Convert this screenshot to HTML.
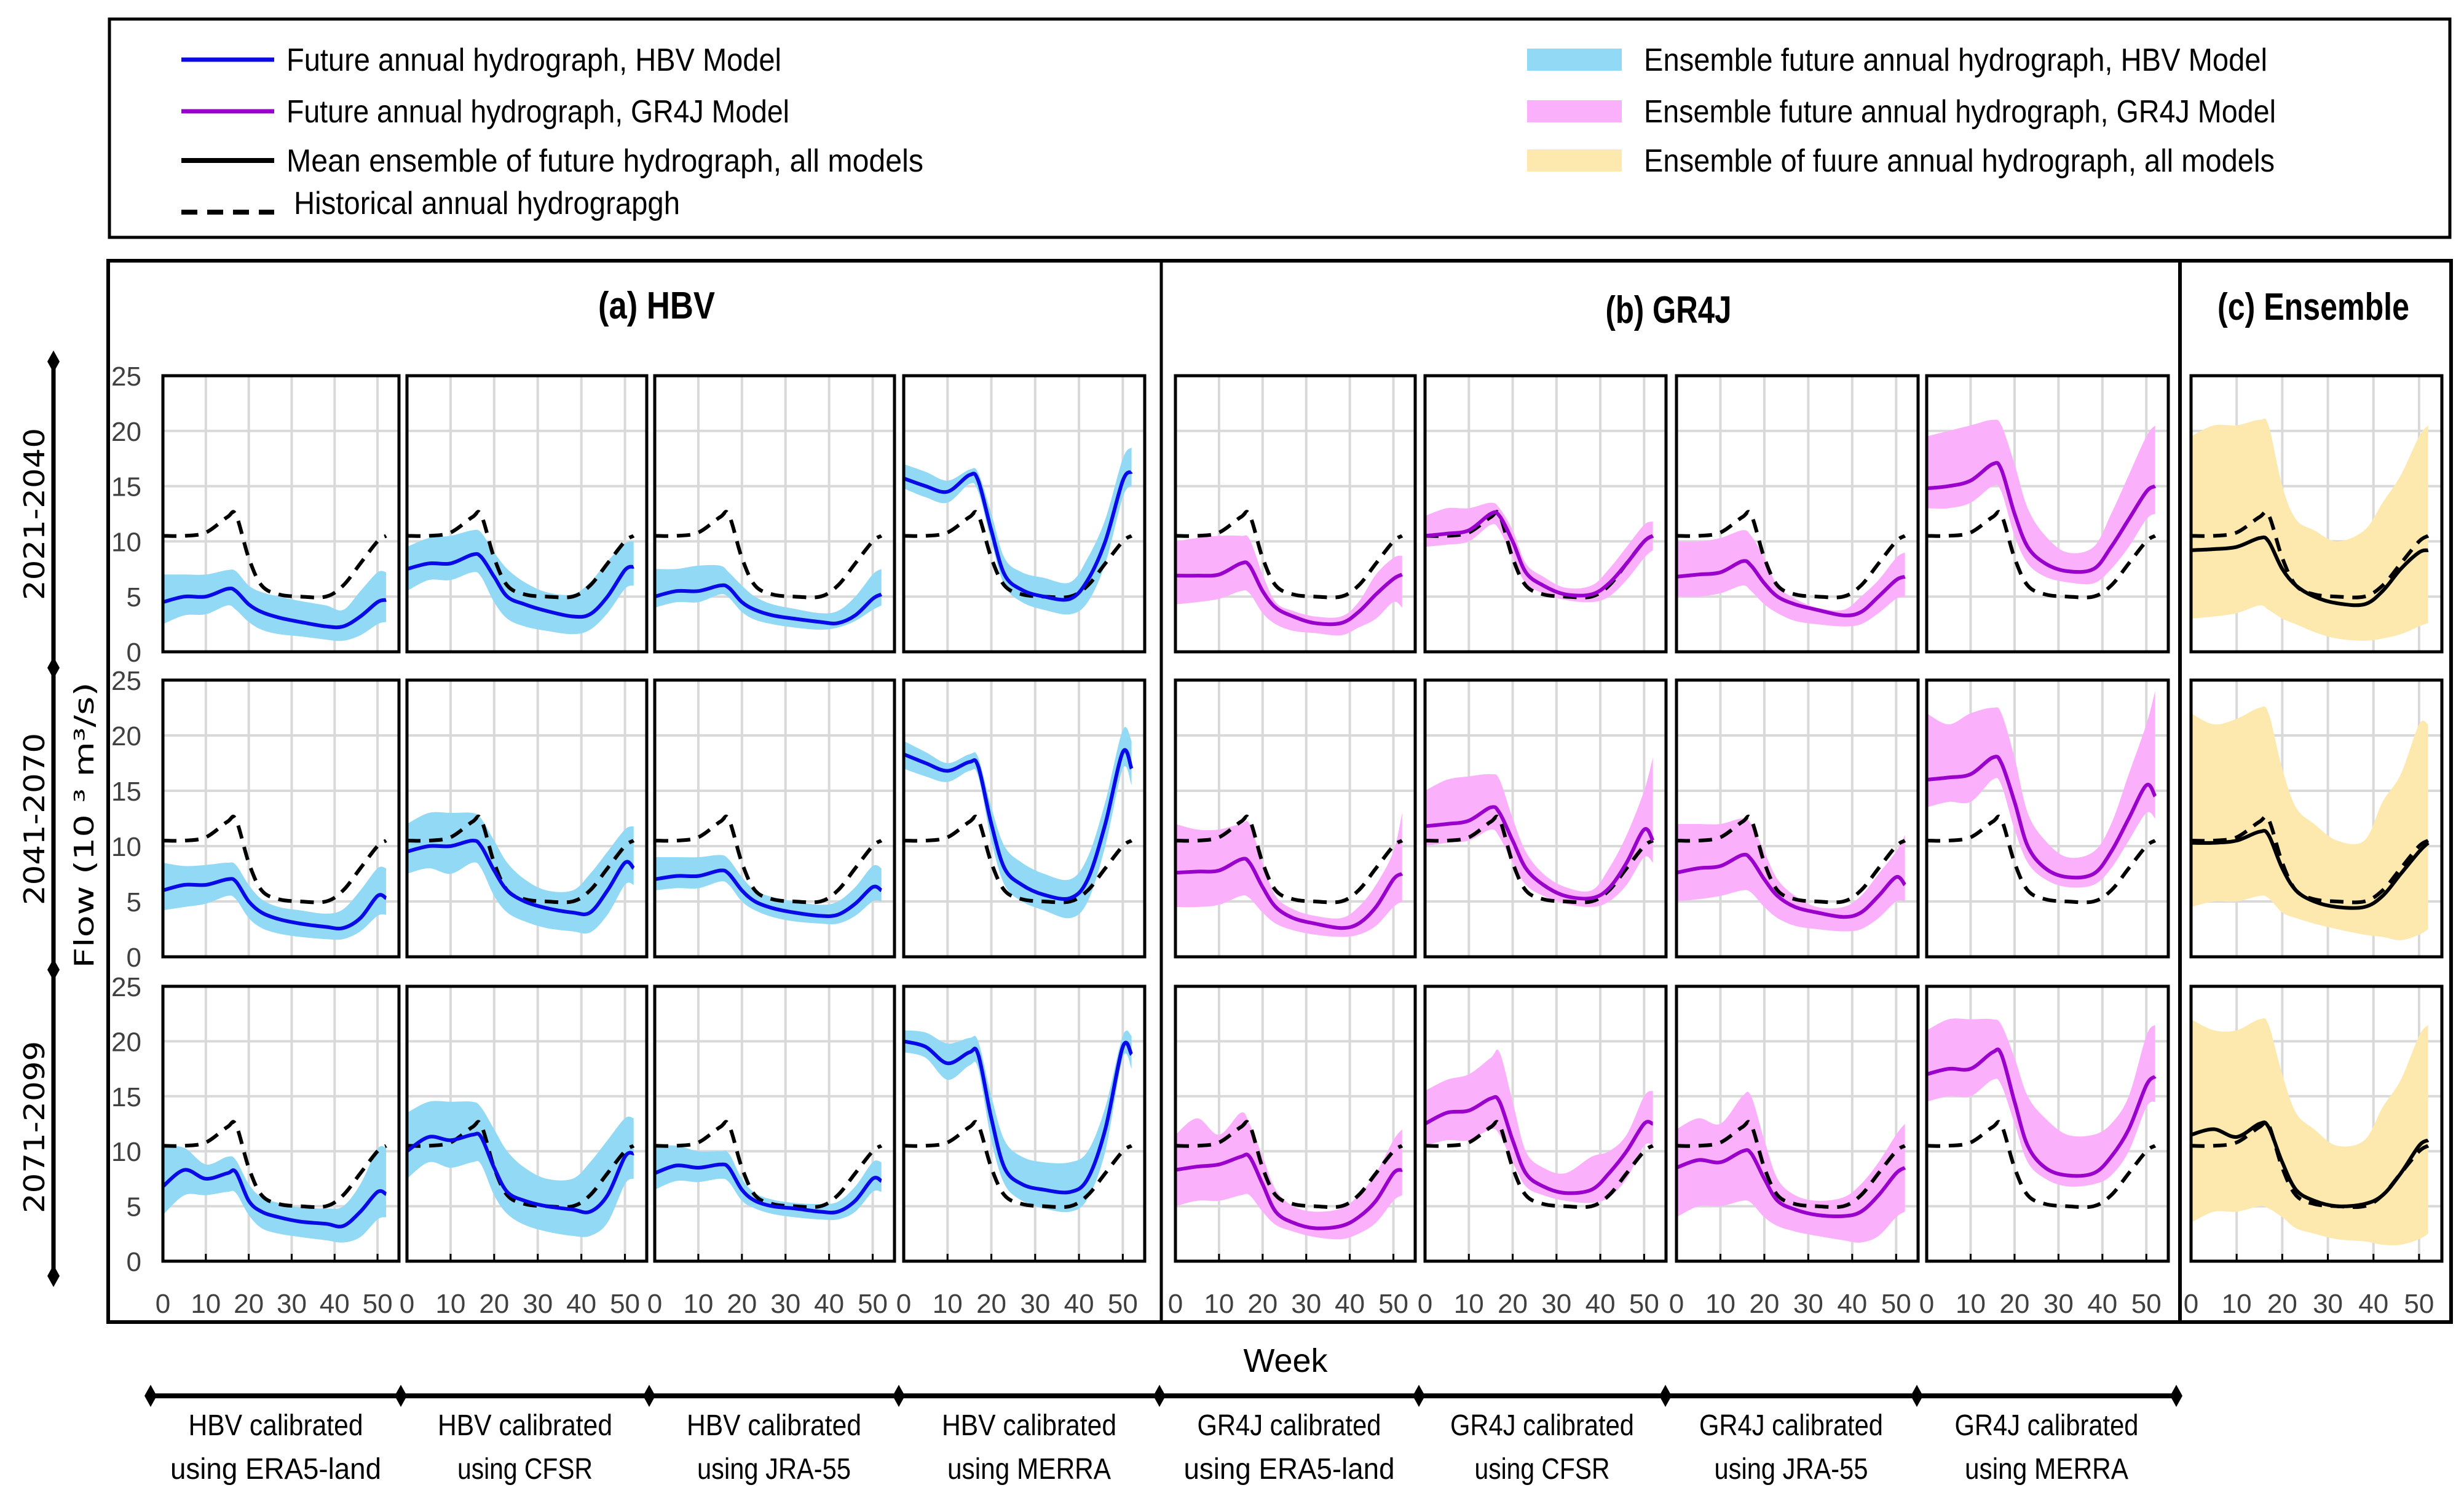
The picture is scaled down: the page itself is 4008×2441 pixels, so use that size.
<!DOCTYPE html>
<html><head><meta charset="utf-8">
<style>
html,body{margin:0;padding:0;background:#fff;}
svg{display:block;}
text{font-family:"Liberation Sans Narrow","Liberation Sans",sans-serif;}
</style></head>
<body>
<svg id="fig" xmlns="http://www.w3.org/2000/svg" width="4008" height="2441" viewBox="0 0 4008 2441">
<rect x="0" y="0" width="4008" height="2441" fill="#fff"/>
<g>
<rect x="178" y="31" width="3807" height="355" fill="none" stroke="#000" stroke-width="5"/>
<g><line x1="295" y1="97" x2="446" y2="97" stroke="#0a0ae6" stroke-width="7"/><text x="466" y="115" font-size="52" textLength="805" lengthAdjust="spacingAndGlyphs">Future annual hydrograph, HBV Model</text></g>
<g><line x1="295" y1="181" x2="446" y2="181" stroke="#9a00cc" stroke-width="7"/><text x="466" y="199" font-size="52" textLength="818" lengthAdjust="spacingAndGlyphs">Future annual hydrograph, GR4J Model</text></g>
<g><line x1="295" y1="261" x2="446" y2="261" stroke="#000" stroke-width="8"/><text x="466" y="279" font-size="52" textLength="1036" lengthAdjust="spacingAndGlyphs">Mean ensemble of  future hydrograph, all models</text></g>
<g><line x1="295" y1="345" x2="446" y2="345" stroke="#000" stroke-width="8" stroke-dasharray="26,16"/><text x="478" y="348" font-size="52" textLength="628" lengthAdjust="spacingAndGlyphs">Historical annual hydrograpgh</text></g>
<g><rect x="2484" y="79" width="154" height="36" fill="#92d9f5"/><text x="2674" y="115" font-size="52" textLength="1014" lengthAdjust="spacingAndGlyphs">Ensemble future annual hydrograph, HBV Model</text></g>
<g><rect x="2484" y="163" width="154" height="36" fill="#fbb0fb"/><text x="2674" y="199" font-size="52" textLength="1028" lengthAdjust="spacingAndGlyphs">Ensemble future annual hydrograph, GR4J Model</text></g>
<g><rect x="2484" y="243" width="154" height="36" fill="#fde8ae"/><text x="2674" y="279" font-size="52" textLength="1026" lengthAdjust="spacingAndGlyphs">Ensemble of fuure annual hydrograph, all models</text></g>
</g>
<rect x="176" y="424" width="3811" height="1726" fill="none" stroke="#000" stroke-width="6"/>
<line x1="1889" y1="424" x2="1889" y2="2150" stroke="#000" stroke-width="5"/>
<line x1="3546" y1="424" x2="3546" y2="2150" stroke="#000" stroke-width="6"/>
<text x="1068" y="518" font-size="62" font-weight="bold" text-anchor="middle" textLength="190" lengthAdjust="spacingAndGlyphs">(a) HBV</text>
<text x="2714" y="525" font-size="62" font-weight="bold" text-anchor="middle" textLength="205" lengthAdjust="spacingAndGlyphs">(b) GR4J</text>
<text x="3763" y="520" font-size="62" font-weight="bold" text-anchor="middle" textLength="312" lengthAdjust="spacingAndGlyphs">(c) Ensemble</text>
<g>
<line x1="87" y1="588" x2="87" y2="2075" stroke="#000" stroke-width="7"/>
<path d="M87 570 L97 588 L87 606 L77 588Z M87 1068 L97 1086 L87 1104 L77 1086Z M87 1559 L97 1577 L87 1595 L77 1577Z M87 2057 L97 2075 L87 2093 L77 2075Z" fill="#000"/>
<text transform="translate(72,836) rotate(-90)" font-size="46" text-anchor="middle" style="font-family:'DejaVu Sans',sans-serif" textLength="280" lengthAdjust="spacingAndGlyphs">2021-2040</text>
<text transform="translate(72,1332) rotate(-90)" font-size="46" text-anchor="middle" style="font-family:'DejaVu Sans',sans-serif" textLength="280" lengthAdjust="spacingAndGlyphs">2041-2070</text>
<text transform="translate(72,1833) rotate(-90)" font-size="46" text-anchor="middle" style="font-family:'DejaVu Sans',sans-serif" textLength="280" lengthAdjust="spacingAndGlyphs">2071-2099</text>
</g>
<text transform="translate(152,1342) rotate(-90)" font-size="44" text-anchor="middle" style="font-family:'DejaVu Sans',sans-serif" textLength="465" lengthAdjust="spacingAndGlyphs">Flow (10 ³ m³/s)</text>
<text x="2091" y="2231" font-size="54" text-anchor="middle">Week</text>
<g>
<line x1="245" y1="2270" x2="3540" y2="2270" stroke="#000" stroke-width="8"/>
<g id="bottomDiamonds"></g>
</g>
<g id="panels"></g>
</svg>
<script>
// ---- data ----
const weeks = [0,5,10,15,17,20,23,27,32,38,42,46,50,52];
const histFlow = [10.5,10.5,10.8,12.2,12.4,8.5,6,5.2,5,5,6,8,10,10.5];
const periods = ["2021-2040","2041-2070","2071-2099"];
const models = ["HBV ERA5-land","HBV CFSR","HBV JRA-55","HBV MERRA","GR4J ERA5-land","GR4J CFSR","GR4J JRA-55","GR4J MERRA","Ensemble"];
const yTicks = [0,5,10,15,20,25];
const xTicks = [0,10,20,30,40,50];
const calibLine1 = ["HBV calibrated","HBV calibrated","HBV calibrated","HBV calibrated","GR4J calibrated","GR4J calibrated","GR4J calibrated","GR4J calibrated"];
const calibLine2 = ["using  ERA5-land","using  CFSR","using  JRA-55","using  MERRA","using  ERA5-land","using  CFSR","using  JRA-55","using  MERRA"];

const mean2021 = [
[4.5,5,5,5.7,5.5,4.3,3.6,3.1,2.7,2.3,2.3,3.2,4.5,4.7],
[7.5,8,8,8.8,8.6,6.8,5,4.3,3.7,3.2,3.4,5,7.4,7.7],
[5,5.5,5.5,6,5.8,4.5,3.8,3.3,3,2.7,2.6,3.3,4.8,5.2],
[15.7,15,14.5,16,15.5,11,7,5.6,5,4.8,6.5,10,15.5,16.3],
[6.9,6.9,7,8,7.8,5.5,4,3.2,2.6,2.6,3.6,5.2,6.6,7],
[10.5,10.7,11,12.5,12.3,10,7.2,6,5.2,5.2,6.2,8,10,10.5],
[6.8,7,7.2,8.2,7.8,6.2,5,4.3,3.8,3.3,3.6,5,6.5,6.8],
[14.8,15,15.5,17,16.5,12.5,9.5,8,7.3,7.5,9.5,12,14.5,15],
[9.2,9.3,9.5,10.3,10,7.5,6,5,4.4,4.3,5.5,7.5,9,9.2]];
const lo2021 = [
[2.5,3.3,3.4,4.2,3.8,2.7,2,1.6,1.4,1.1,1,1.5,2.5,2.7],
[5.5,6.5,6.5,7.2,6.8,4.5,3,2.3,1.9,1.6,2,3.5,5.7,6],
[4,4.5,4.5,5.2,4.9,3.6,2.9,2.5,2.2,2,2.2,2.8,3.8,4.2],
[14.8,14,13.5,15.2,14.5,10,6,4.5,3.8,3.4,4.5,8,14,15],
[4.3,4.5,4.8,5.5,5.3,3.5,2.5,1.9,1.7,1.5,2.2,3,4.5,4],
[9.5,9.7,10,11.5,11,8.5,6.2,5.3,4.7,4.5,5,6.5,8.5,9.2],
[5,5,5.3,6,5.5,4.3,3.5,2.8,2.5,2.3,2.5,3.5,4.8,5],
[13,13,13.5,15,14.5,10.5,8,6.8,6.3,6.2,7.5,9.5,12,12.5],
[3,3.2,3.5,4.2,3.8,3,2.5,1.8,1.2,1,1.2,1.6,2.3,2.6]];
const hi2021 = [
[7,7,7,7.4,7.3,6,5.4,5,4.6,4.2,3.8,5.5,7.2,7.2],
[9.5,10.3,10.5,11,10.8,9,7.5,6.3,5.4,5.2,6.3,8.2,9.8,10],
[7.5,7.5,7.8,7.8,7.2,6,5,4.3,3.9,3.5,3.7,5,7,7.5],
[17,16.3,15.5,16.5,16.2,12.5,8.5,7.2,6.7,6.3,8.5,12,17.5,18.5],
[10,10.3,10.5,10.5,10.2,7,4.5,3.7,3.2,3.2,4.5,7,8.5,8.7],
[12.3,13,13,13.5,13,11,8,6.8,5.8,6,7.5,9.5,11.5,11.8],
[10,10,10.3,11,10.5,8.5,6,4.8,4,3.8,5,6.5,8.5,9],
[19.5,20,20.5,21,20.5,17,13,10.5,9,9.5,12.5,16,19.5,20.5],
[19.5,20.5,20.5,21,20.5,15,12,11,10,11,13.5,16,19.5,20.5]];
const mean2041 = [
[6,6.5,6.5,7,6.8,5,4,3.4,3,2.7,2.6,3.5,5.5,5.3],
[9.5,10,10,10.5,10,7.8,6,5,4.4,4,4,6,8.5,8],
[7,7.3,7.3,7.8,7.5,6,5,4.4,4,3.7,3.8,4.8,6.3,6],
[18.3,17.5,16.8,17.6,17.2,12,8,6.5,5.6,5.3,7,12,18.5,17],
[7.6,7.7,7.8,8.8,8.5,6.3,4.5,3.5,3,2.6,3,4.5,7,7.5],
[11.8,12,12.3,13.5,13,10.5,8,6.5,5.5,5.3,6.2,8.5,11.5,10.5],
[7.6,8,8.2,9.2,8.8,7,5.5,4.5,4,3.6,4,5.5,7.2,6.5],
[16,16.2,16.5,18,17.5,14,10,8,7.2,7.5,9.5,12.5,15.5,14.5],
[10.3,10.3,10.5,11.3,11,8,6,5,4.5,4.5,5.5,7.5,9.5,10.3]];
const lo2041 = [
[4.2,4.5,4.8,5.5,5.2,3.5,2.6,2.1,1.8,1.6,1.6,2.3,3.7,3.8],
[7.5,8,7.5,8.5,8,5.5,4,3.2,2.6,2.3,2.2,3.8,6.5,6.5],
[6,6.2,6.2,6.8,6.5,5,4.2,3.6,3.2,3,3,3.7,5,5],
[17,16.3,15.8,16.8,16.3,10.5,6.5,5,4.2,3.5,5,10,17,15.5],
[4.5,4.5,4.7,5.5,5.3,4,3,2.4,2,1.8,2,2.8,4.5,5],
[10,10.3,10.5,11.5,10.8,8.5,6.5,5.5,4.8,4.5,5,6.5,9,8.5],
[5,5.2,5.5,6,5.8,4.5,3.5,2.8,2.5,2.3,2.5,3.5,5,5],
[13.5,14,14,16,15.5,11.5,8.5,7,6.3,6.5,8,10.5,13,12.5],
[4.5,5,5,5.5,5.3,4,3.5,3,2.5,2,1.8,1.5,2,2.5]];
const hi2041 = [
[8.5,8.2,8.3,8.5,8.3,6.5,5.2,4.5,4.2,3.9,4.3,6,8,8],
[12,13,13,13,12.5,10.5,8.5,7,6,6,7.5,9.5,11.5,11.8],
[9,9,9,9.2,8.8,7.2,6,5.4,5,4.7,5,6.3,8.2,8],
[19.5,18.5,17.5,18.3,18,13.5,10,8.5,7.5,7,9,14,20.5,19.5],
[12,11.5,11.5,12,12,8.5,5.5,4.3,3.7,3.5,4.5,6.5,9.5,13],
[15,16,16.3,16.5,16,12.5,9.5,7.5,6.3,6,8,11,15,18],
[12,12,12,12.5,12,9.5,7,5.5,4.5,4.5,5.5,7.5,9.5,11],
[22,21,22,22.5,22,18,13,10.5,9,9.5,12,16.5,21,24],
[22,21,21.5,22.5,22,17,13.5,12,10.5,10.5,14,16.5,21,21]];
const mean2071 = [
[6.8,8.3,7.5,8,8.1,5.5,4.5,4,3.6,3.4,3.2,4.5,6.3,6.1],
[10,11.3,11,11.5,11.3,8.5,6.3,5.5,5,4.7,4.5,6,9.5,9.8],
[8,8.7,8.5,8.8,8.5,6.5,5.5,5,4.8,4.5,4.5,5.5,7.5,7.3],
[20,19.5,18,19,18.8,13,8.5,7,6.5,6.3,7.5,12,19.5,18.8],
[8.3,8.6,8.8,9.5,9.5,7,4.5,3.5,3,3.2,4,5.5,8,8.3],
[12.5,13.5,13.7,14.8,14.5,11,8,6.8,6.2,6.5,8,10,12.5,12.5],
[8.5,9.2,9,10,9.8,7.5,5.5,4.7,4.2,4.1,4.5,6,8,8.5],
[17,17.5,17.5,19,18.8,14.5,10.5,8.5,7.8,8,9.5,12,16,16.8],
[11.5,12,11.3,12.5,12.2,9,6.5,5.5,5,5.2,6,8,10.5,11]];
const lo2071 = [
[4.2,6,6,6.3,6.2,4.2,3,2.5,2.2,1.9,1.7,2.2,3.8,4],
[7.5,9,8.5,9,8.8,6,4.3,3.3,2.7,2.3,2.3,3.5,7,7.5],
[6.5,7.3,7.2,7.5,7.2,5.5,4.8,4.3,4,3.8,3.8,4.5,6.3,6.3],
[19,18.5,16.5,17.8,17.5,11,7,5.5,4.8,4.5,5.7,10,18.5,17.5],
[5,5.5,5.5,6,6,4.5,3.3,2.7,2.2,2,2.5,3.5,5.5,6],
[10.5,11,11,12,11.5,9,6.8,6,5.5,5.3,5.8,7.5,10.5,10.5],
[4,5,5,5.5,5.3,4,3.2,2.7,2.3,1.9,1.7,2.3,4,4.5],
[14.5,15,15,16.5,16,12.5,9,7.5,6.8,7,7.8,10,14,14.5],
[3.5,4.5,4.5,5,4.8,4,3,2.5,2,1.8,1.5,1.5,2,2.5]];
const hi2071 = [
[10.5,10.3,8.8,9.5,9.2,7,5.8,5.3,4.9,4.8,5,7,10.2,10.3],
[13.5,14.5,14.5,14.5,14,12,10,8.5,7.5,7.5,9,11,13,13],
[10.5,10.5,10,10,9.8,7.5,6.2,5.6,5.3,5.2,5.4,6.8,9,9],
[21,20.8,19.8,20.3,20,15,11,9.5,9,9,10,14,20.5,20.5],
[11.5,13,11.5,13.5,12.5,9.5,6.5,5,4.5,4.8,6,8,11,12],
[15.5,16.5,17,18.5,19,14.5,10,8.5,8,9.5,10,11.5,15,15.5],
[12,13,12.5,15,15,11,7.5,6,5.5,5.8,7,9,11.5,12.5],
[21,22,22,22,21.5,18.5,15,13,11.5,11.5,12.5,15,20.5,21.5],
[22,21,21,22,21.5,17,13.5,12,10.5,11,14,16.5,20.5,21.5]];

const meanByPeriod = [mean2021, mean2041, mean2071];
const loByPeriod = [lo2021, lo2041, lo2071];
const hiByPeriod = [hi2021, hi2041, hi2071];

const NS = "http://www.w3.org/2000/svg";
const colX = [[265,649],[662,1052],[1065,1455],[1470,1862],[1912,2302],[2318,2710],[2727,3120],[3134,3527],[3564,3972]];
const rowY = [[611,1060],[1106,1556],[1604,2051]];
const X_MAX = 55, Y_MAX = 25;
const line1W = [284,284,284,284,299,299,299,299];
const line2W = [343,220,250,266,343,220,250,266];
const styles = [];
for (let c = 0; c < 9; c++) {
  if (c < 4) styles.push({band:"#92d9f5", line:"#0a0ae6"});
  else if (c < 8) styles.push({band:"#fbb0fb", line:"#9a00cc"});
  else styles.push({band:"#fde8ae", line:"#000"});
}
function el(tag, attrs, parent) {
  const e = document.createElementNS(NS, tag);
  for (const k in attrs) e.setAttribute(k, attrs[k]);
  parent.appendChild(e);
  return e;
}
function smoothPath(pts) {
  let d = "M" + pts[0][0].toFixed(1) + " " + pts[0][1].toFixed(1);
  for (let i = 0; i < pts.length - 1; i++) {
    const p0 = pts[Math.max(0, i - 1)], p1 = pts[i], p2 = pts[i + 1], p3 = pts[Math.min(pts.length - 1, i + 2)];
    const c1 = [p1[0] + (p2[0] - p0[0]) / 6, p1[1] + (p2[1] - p0[1]) / 6];
    const c2 = [p2[0] - (p3[0] - p1[0]) / 6, p2[1] - (p3[1] - p1[1]) / 6];
    d += "C" + c1[0].toFixed(1) + " " + c1[1].toFixed(1) + " " + c2[0].toFixed(1) + " " + c2[1].toFixed(1) + " " + p2[0].toFixed(1) + " " + p2[1].toFixed(1);
  }
  return d;
}
const root = document.getElementById("panels");
for (let r = 0; r < 3; r++) {
  const [y0, y1] = rowY[r];
  const yS = v => y1 - v / Y_MAX * (y1 - y0);
  for (const t of yTicks) {
    const tl = el("text", {x: 230, y: yS(t) + 16, "font-size": 44, "text-anchor": "end", fill: "#404040"}, root);
    
    
    tl.textContent = t;
  }
  for (let c = 0; c < 9; c++) {
    const [x0, x1] = colX[c];
    const xS = w => x0 + w / X_MAX * (x1 - x0);
    const g = el("g", {}, root);
    
    
    for (const t of yTicks.slice(1, 5)) el("line", {x1: x0, x2: x1, y1: yS(t), y2: yS(t), stroke: "#d9d9d9", "stroke-width": 4}, g);
    for (const t of xTicks.slice(1)) el("line", {x1: xS(t), x2: xS(t), y1: y0, y2: y1, stroke: "#d9d9d9", "stroke-width": 4}, g);
    const mean = meanByPeriod[r][c], lo = loByPeriod[r][c], hi = hiByPeriod[r][c];
    const upper = weeks.map((w, i) => [xS(w), yS(hi[i])]);
    const lower = weeks.map((w, i) => [xS(w), yS(lo[i])]).reverse();
    let dBand = smoothPath(upper) + "L" + lower[0][0].toFixed(1) + " " + lower[0][1].toFixed(1) + smoothPath(lower).replace(/^M[^C]*/, "") + "Z";
    const band = el("path", {d: dBand, fill: styles[c].band, stroke: "none"}, g);
    
    
    const hist = el("path", {d: smoothPath(weeks.map((w, i) => [xS(w), yS(histFlow[i])])), fill: "none", stroke: "#000", "stroke-width": 6, "stroke-dasharray": "22,14"}, g);
    
    
    const ml = el("path", {d: smoothPath(weeks.map((w, i) => [xS(w), yS(mean[i])])), fill: "none", stroke: styles[c].line, "stroke-width": 6}, g);
    
    
    el("rect", {x: x0, y: y0, width: x1 - x0, height: y1 - y0, fill: "none", stroke: "#000", "stroke-width": 5}, g);
    if (r === 2) {
      for (const t of xTicks) {
        el("line", {x1: xS(t), x2: xS(t), y1: y1 - 12, y2: y1, stroke: "#000", "stroke-width": 3}, g);
        const xl = el("text", {x: xS(t), y: 2135, "font-size": 44, "text-anchor": "middle", fill: "#404040"}, root);
        
        
        xl.textContent = t;
      }
    }
  }
}
const dX = [245,652,1056,1462,1886,2308,2709,3118,3540];
const bd = document.getElementById("bottomDiamonds");
for (const x of dX) el("path", {d: `M${x} 2252 L${x+10} 2270 L${x} 2288 L${x-10} 2270Z`, fill: "#000"}, bd);
for (let i = 0; i < 8; i++) {
  const cx = (dX[i] + dX[i + 1]) / 2;
  const t1 = el("text", {x: cx, y: 2334, "font-size": 48, "text-anchor": "middle", textLength: line1W[i], lengthAdjust: "spacingAndGlyphs"}, root);
  
  
  t1.textContent = calibLine1[i];
  const t2 = el("text", {x: cx, y: 2405, "font-size": 48, "text-anchor": "middle", textLength: line2W[i], lengthAdjust: "spacingAndGlyphs"}, root);
  
  
  t2.textContent = calibLine2[i];
}
</script>
</body></html>
